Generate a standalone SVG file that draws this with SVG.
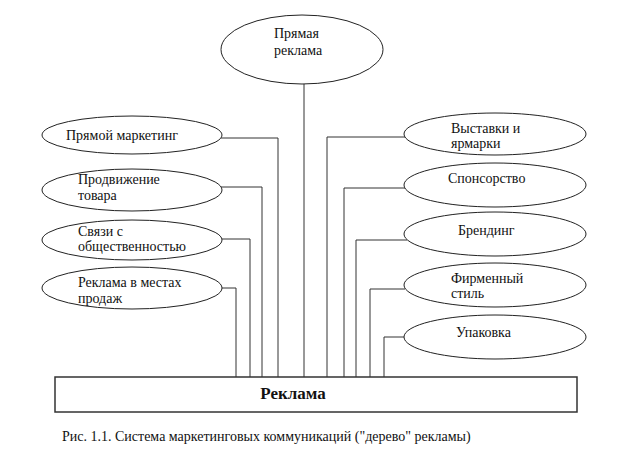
<svg xmlns="http://www.w3.org/2000/svg" width="623" height="453" viewBox="0 0 623 453">
<style>
.n ellipse{fill:#fff;stroke:#222;stroke-width:1}
text{font-family:"Liberation Serif","DejaVu Serif","Times New Roman",serif}
.t{font-size:14px;fill:#111}
.c path{fill:none;stroke:#333;stroke-width:1}
.b{font-size:17px;font-weight:bold;fill:#111}
</style>
<rect width="623" height="453" fill="#fff"/>
<g class="c" id="connectors">
<path d="M304,84 V377"/>
<path d="M221,138 H278 V377"/>
<path d="M221,187 H262 V377"/>
<path d="M222,239 H250 V377"/>
<path d="M222,288 H236 V377"/>
<path d="M405,137 H327 V377"/>
<path d="M405,188 H344 V377"/>
<path d="M407,240 H356 V377"/>
<path d="M405,289 H370 V377"/>
<path d="M404,337 H384 V377"/>
</g>
<g class="n" id="n-pryamaya">
<ellipse cx="302" cy="49.5" rx="81" ry="34.5"/>
<text class="t" x="274" y="38">Прямая</text>
<text class="t" x="274" y="55">реклама</text>
</g>
<g class="n" id="n-pryamoy-marketing">
<ellipse cx="132" cy="135" rx="90" ry="19"/>
<text class="t" x="66" y="140">Прямой маркетинг</text>
</g>
<g class="n" id="n-prodvizhenie">
<ellipse cx="132" cy="190" rx="90" ry="21"/>
<text class="t" x="78" y="184">Продвижение</text>
<text class="t" x="78" y="200">товара</text>
</g>
<g class="n" id="n-svyazi">
<ellipse cx="132" cy="240" rx="90" ry="20"/>
<text class="t" x="78" y="236">Связи с</text>
<text class="t" x="78" y="251">общественностью</text>
</g>
<g class="n" id="n-reklama-mesta">
<ellipse cx="132" cy="288" rx="90" ry="21"/>
<text class="t" x="78" y="287">Реклама в местах</text>
<text class="t" x="78" y="303">продаж</text>
</g>
<g class="n" id="n-vystavki">
<ellipse cx="495" cy="134" rx="91" ry="21"/>
<text class="t" x="451" y="133">Выставки и</text>
<text class="t" x="451" y="148">ярмарки</text>
</g>
<g class="n" id="n-sponsorstvo">
<ellipse cx="495" cy="185" rx="91" ry="22"/>
<text class="t" x="448" y="183">Спонсорство</text>
</g>
<g class="n" id="n-brending">
<ellipse cx="495" cy="234" rx="91" ry="22"/>
<text class="t" x="458" y="235">Брендинг</text>
</g>
<g class="n" id="n-firmenny">
<ellipse cx="495" cy="285" rx="91" ry="22"/>
<text class="t" x="451" y="283">Фирменный</text>
<text class="t" x="451" y="298">стиль</text>
</g>
<g class="n" id="n-upakovka">
<ellipse cx="495" cy="337" rx="91" ry="22"/>
<text class="t" x="456" y="337">Упаковка</text>
</g>
<g id="n-reklama">
<rect x="55" y="377" width="522" height="35" fill="#fff" stroke="#333" stroke-width="1.5"/>
<text class="b" x="293" y="399" text-anchor="middle">Реклама</text>
</g>
<text class="t" x="62" y="441">Рис. 1.1. Система маркетинговых коммуникаций ("дерево" рекламы)</text>
</svg>
